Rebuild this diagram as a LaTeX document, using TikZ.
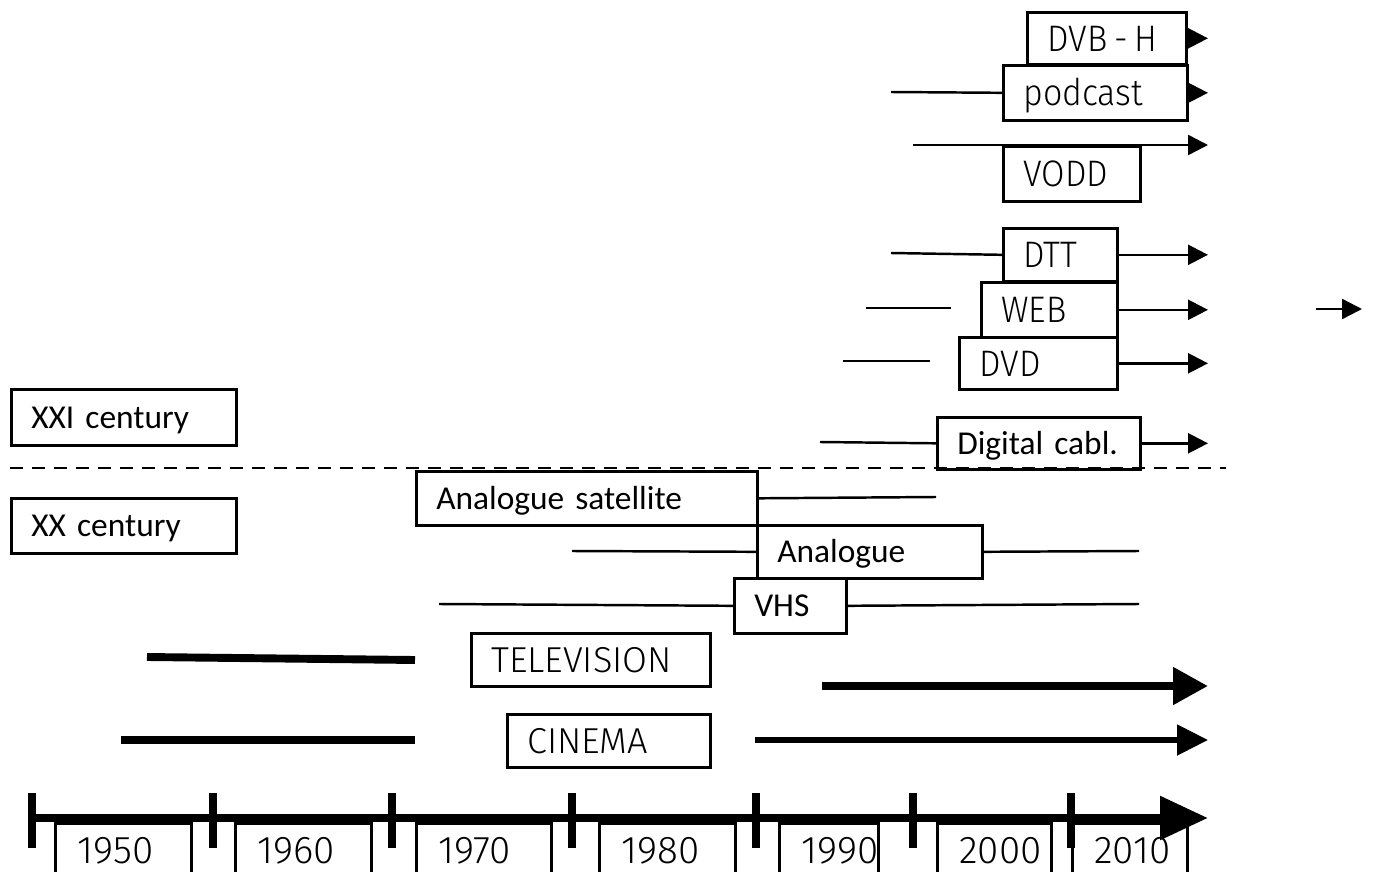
\documentclass[tikz,border=0pt]{standalone}
\usepackage{fontspec}
\usepackage{tikz}
\usetikzlibrary{arrows.meta}
\newfontfamily\calfont{Carlito}
\newfontfamily\dinfont[FakeStretch=0.92]{Fira Sans Light}
\newfontfamily\capfont{Fira Sans Light}

\begin{document}
\begin{tikzpicture}[x=0.02cm, y=-0.02cm,
box/.style={draw, line width=1.5pt, anchor=north west, inner xsep=0.4cm, inner ysep=0pt, align=left},
cal/.style={font=\calfont\fontsize{19}{22}\selectfont, text height=12.4pt, text depth=0pt},
din/.style={font=\dinfont\fontsize{21}{25}\selectfont, text height=14.5pt, text depth=0pt},
caps/.style={font=\capfont\fontsize{20.5}{24}\selectfont, text height=14.1pt, text depth=0pt},
yearbox/.style={box, font=\capfont\fontsize{22}{26}\selectfont, text height=15.2pt, text depth=0pt, inner xsep=0.44cm, minimum height=1.08cm},
span/.style={line width=1.4pt},
spanarrow/.style={line width=1.4pt, -{Triangle[length=0.4cm, width=0.4cm]}},
bar/.style={line width=4.5pt},
bararrow/.style={line width=4.5pt, -{Triangle[length=0.7cm, width=0.72cm]}},
cinarrow/.style={line width=3pt, -{Triangle[length=0.62cm, width=0.6cm]}},
tick/.style={line width=4.5pt}
]
\useasboundingbox (0,0) rectangle (1374,872);
\clip (0,0) rectangle (1374,872);
\coordinate (end) at (1208,0);

%Nodes (XXI century)
\node[box, din, text width=2.38cm, minimum height=1.04cm] (dvbh) at (1026,11)  {\mbox{DVB\hspace{0.18em}-\hspace{0.18em}H}};
\node[box, din, text width=2.88cm, minimum height=1.10cm] (pod)  at (1002,64)  {podcast};
\node[box, din, text width=1.94cm, minimum height=1.10cm] (vodd) at (1002,145) {VODD};
\node[box, din, text width=1.48cm, minimum height=1.06cm] (dtt)  at (1002,227) {DTT};
\node[box, din, text width=1.92cm, minimum height=1.10cm] (web)  at (980,281)  {WEB};
\node[box, din, text width=2.36cm, minimum height=1.04cm] (dvd)  at (958,336)  {DVD};
\node[box, cal, text width=3.26cm, minimum height=1.04cm] (dcab) at (936,416)  {Digital cabl.};
\node[box, cal, text width=3.70cm, minimum height=1.12cm] (xxi)  at (10,388)   {XXI century};

%Nodes (XX century)
\node[box, cal, text width=3.70cm, minimum height=1.10cm] (xx)   at (10,497)   {XX century};
\node[box, cal, text width=6.02cm, minimum height=1.08cm] (asat) at (415,470)  {Analogue satellite};
\node[box, cal, text width=3.70cm, minimum height=1.06cm] (ana)  at (756,524)  {Analogue};
\node[box, cal, text width=1.44cm, minimum height=1.10cm] (vhs)  at (733,577)  {VHS};
\node[box, caps, text width=3.98cm, minimum height=1.06cm] (tv)  at (470,632) {TELEVISION};
\node[box, caps, text width=3.26cm, minimum height=1.06cm] (cin) at (506,713) {CINEMA};

%Free ends
\coordinate (pod-s)  at (891,92);
\coordinate (vodd-s) at (913,145);
\coordinate (dtt-s)  at (891,253);
\coordinate (web-s)  at (866,308);
\coordinate (web-t)  at (951,308);
\coordinate (odd-s)  at (1316,309);
\coordinate (odd-e)  at (1362,309);
\coordinate (dvd-s)  at (843,361);
\coordinate (dvd-t)  at (930,361);
\coordinate (dcab-s) at (820,442);
\coordinate (sep-s)  at (10,468);
\coordinate (sep-e)  at (1226,468);
\coordinate (asat-e) at (936,497);
\coordinate (ana-s)  at (572,551);
\coordinate (ana-e)  at (1139,551);
\coordinate (vhs-s)  at (439,604);
\coordinate (vhs-e)  at (1139,604);
\coordinate (tv-a)   at (147,657);
\coordinate (tv-b)   at (415,660);
\coordinate (tv-c)   at (822,686);
\coordinate (cin-a)  at (121,740);
\coordinate (cin-b)  at (415,740);
\coordinate (cin-c)  at (755,740);
\coordinate (ax-s)   at (30,818);

%Lines
\draw[spanarrow] (dvbh.east) -- (dvbh.east -| end);
\draw[span] (pod-s) -- (pod.west);
\draw[spanarrow] (pod.east) -- (pod.east -| end);
\draw[spanarrow] (vodd-s) -- (vodd.north west) -- (vodd.north west -| end);
\draw[span] (dtt-s) -- (dtt.west);
\draw[spanarrow] (dtt.east) -- (dtt.east -| end);
\draw[span] (web-s) -- (web-t);
\draw[spanarrow] (web.east) -- (web.east -| end);
\draw[spanarrow] (odd-s) -- (odd-e);
\draw[span] (dvd-s) -- (dvd-t);
\draw[spanarrow] (dvd.east) -- (dvd.east -| end);
\draw[span] (dcab-s) -- (dcab.west);
\draw[spanarrow] (dcab.east) -- (dcab.east -| end);
\draw[line width=1.4pt, dash pattern=on 0.27cm off 0.17cm] (sep-s) -- (sep-e);
\draw[span] (asat.east) -- (asat-e);
\draw[span] (ana-s) -- (ana.west);
\draw[span] (ana.east) -- (ana-e);
\draw[span] (vhs-s) -- (vhs.west);
\draw[span] (vhs.east) -- (vhs-e);
\draw[bar] (tv-a) -- (tv-b);
\draw[bararrow] (tv-c) -- (tv-c -| end);
\draw[bar] (cin-a) -- (cin-b);
\draw[cinarrow] (cin-c) -- (cin-c -| end);

%Time axis
\draw[line width=5pt, -{Triangle[length=0.96cm, width=0.84cm]}] (ax-s) -- (ax-s -| end);
\foreach \x in {32,213,392,572,756,913,1071}
  \draw[tick] (\x,793) -- (\x,848);
\foreach \a/\b/\yr [count=\i] in {54/190/1950, 234/370/1960, 415/550/1970, 598/734/1980, 778/877/1990, 936/1050/2000, 1071/1186/2010}{
  \pgfmathsetmacro\tw{(\b-\a)*0.02-0.88}
  \node[yearbox, text width=\tw cm] (y\i) at (\a,822) {\yr};
}
\end{tikzpicture}
\end{document}
